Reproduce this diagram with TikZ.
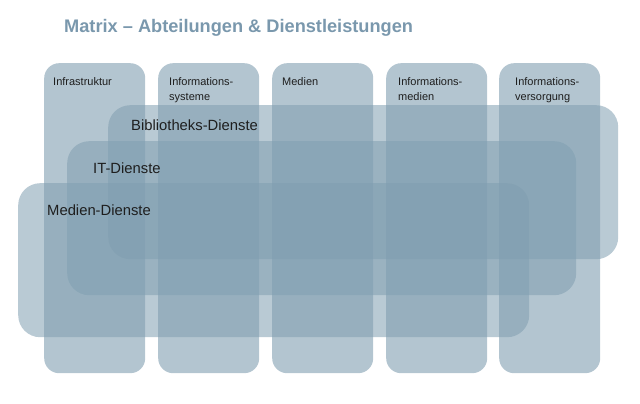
\documentclass[tikz,border=0pt]{standalone}
\usepackage{fontspec}
\setmainfont{Liberation Sans}
\definecolor{slate}{RGB}{128,158,176}
\definecolor{titleblue}{RGB}{122,152,173}
\definecolor{labelink}{RGB}{30,30,30}
\begin{document}
\begin{tikzpicture}[x=1pt,y=-1pt,
  column/.style={fill=slate, fill opacity=0.6, draw=none, rounded corners=15pt,
    anchor=north west, inner sep=0pt, minimum width=101pt, minimum height=310pt},
  band/.style={fill=slate, fill opacity=0.55, draw=none, rounded corners=22pt,
    anchor=north west, inner sep=0pt, minimum height=154pt},
  collabel/.style={anchor=north west, inner sep=0pt, text=labelink,
    font=\fontsize{11}{15}\selectfont, align=left},
  bandlabel/.style={anchor=base west, inner sep=0pt, text=labelink,
    font=\fontsize{14.8}{17}\selectfont},
  heading/.style={anchor=base west, inner sep=0pt, text=titleblue,
    font=\bfseries\fontsize{18.2}{22}\selectfont}]
\useasboundingbox (0,0) rectangle (640,404);

% departments (columns)
\node[column] (infra) at (44,63) {};
\node[column] (infosys) at (158,63) {};
\node[column] (medien) at (272,63) {};
\node[column] (infomed) at (386,63) {};
\node[column] (infoversorg) at (499,63) {};

% services (rows)
\node[band, minimum width=510pt] (bib) at (108,105) {};
\node[band, minimum width=509pt] (it) at (67,141) {};
\node[band, minimum width=511pt] (mdienste) at (18,183) {};

% title
\node[heading] (title) at (64,33) {Matrix – Abteilungen \& Dienstleistungen};

% column labels, all hung from the same top line
\node[collabel] (linfra) at (53,77) {Infrastruktur};
\node[collabel] (linfosys) at (169,77) {Informations-\\systeme};
\node[collabel] (lmedien) at (282,77) {Medien};
\node[collabel] (linfomed) at (398,77) {Informations-\\medien};
\node[collabel] (linfoversorg) at (515,77) {Informations-\\versorgung};

% row labels
\node[bandlabel] (lbib) at (131,130) {Bibliotheks-Dienste};
\node[bandlabel] (lit) at (93,173) {IT-Dienste};
\node[bandlabel] (lmdienste) at (47,215) {Medien-Dienste};
\end{tikzpicture}
\end{document}
